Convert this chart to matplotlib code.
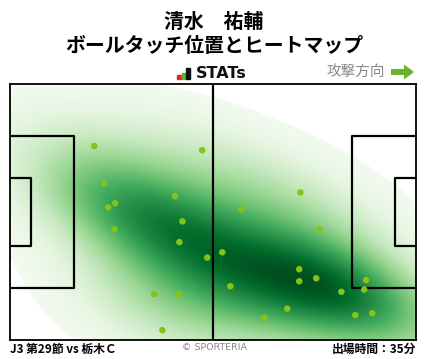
import numpy as np
import matplotlib
matplotlib.use('Agg')
import matplotlib.pyplot as plt
from matplotlib.patches import Rectangle, FancyArrow

plt.rcParams['font.family'] = ['Noto Sans CJK JP', 'DejaVu Sans']

# ball touches (meters, x: 0-105 attack to the right, y: 0-68 from top)
touch_x = [21.8, 49.7, 24.4, 27.2, 25.4, 42.7, 44.6, 27.0, 43.8, 51.0, 37.3, 43.5, 39.4,
           75.1, 59.8, 80.0, 54.9, 74.8, 74.8, 79.2, 92.1, 57.0, 85.7, 91.6, 71.7, 65.8,
           89.3, 93.7]
touch_y = [16.5, 17.6, 26.4, 31.7, 32.8, 29.8, 36.5, 38.6, 42.0, 46.1, 55.8, 55.8, 65.4,
           28.8, 33.3, 38.6, 44.7, 49.2, 52.4, 51.6, 52.1, 53.7, 55.2, 54.6, 59.7, 62.1,
           61.4, 60.9]

player = '清水　祐輔'
subtitle = 'ボールタッチ位置とヒートマップ'
match_info = 'J3 第29節 vs 栃木Ｃ'
minutes = '出場時間：35分'

# gaussian kde, full covariance, scott factor (widened)
pts = np.vstack([touch_x, touch_y])
n = pts.shape[1]
fac = n ** (-1.0 / 6) * 1.3
cov = np.cov(pts) * fac ** 2
inv = np.linalg.inv(cov)
gx, gy = np.meshgrid(np.linspace(0, 105, 840), np.linspace(0, 68, 544))
grid = np.vstack([gx.ravel(), gy.ravel()])
d = grid[:, :, None] - pts[:, None, :]
e = np.einsum('ijk,il,ljk->jk', d, inv, d)
dens = np.exp(-0.5 * e).sum(axis=1).reshape(gx.shape)
dens = dens / dens.max()
rgba = plt.get_cmap('Greens')(dens / 1.03)
rgba[dens < 0.03, 3] = 0

fig = plt.figure(figsize=(4.28, 3.59), dpi=100)
ax = fig.add_axes([10 / 428, 19 / 359, 406 / 428, 256 / 359])
ax.imshow(rgba, extent=(0, 105, 68, 0), interpolation='nearest', aspect='auto', zorder=1)

lw = 1.6
kw = dict(color='black', lw=lw, zorder=3)
ax.plot([52.5, 52.5], [0, 68], **kw)
ax.plot([0, 16.5, 16.5, 0], [13.85, 13.85, 54.15, 54.15], **kw)
ax.plot([0, 5.5, 5.5, 0], [24.85, 24.85, 43.15, 43.15], **kw)
ax.plot([105, 88.5, 88.5, 105], [13.85, 13.85, 54.15, 54.15], **kw)
ax.plot([105, 99.5, 99.5, 105], [24.85, 24.85, 43.15, 43.15], **kw)
ax.scatter(touch_x, touch_y, s=22, color='#84c318', edgecolor='none', zorder=4)
ax.set_xlim(0, 105)
ax.set_ylim(68, 0)
ax.set_xticks([])
ax.set_yticks([])
for s in ax.spines.values():
    s.set_linewidth(1.3)

# header
fig.text(0.5, 1 - 21 / 359, player, ha='center', va='center', fontsize=14.3, fontweight='bold')
fig.text(0.5, 1 - 46 / 359, subtitle, ha='center', va='center', fontsize=14.3, fontweight='bold')
fig.text(196 / 428, 1 - 73 / 359, 'STATs', ha='left', va='center', fontsize=11.5,
         fontweight='bold', family='DejaVu Sans', color='#111111')
for bx, bh, bc in [(177, 4, '#e8262b'), (181.5, 6, '#5cb531'), (186, 11, '#111111')]:
    fig.patches.append(Rectangle((bx / 428, 1 - 79 / 359), 3.5 / 428, bh / 359,
                                 transform=fig.transFigure, color=bc))
fig.text(385 / 428, 1 - 72 / 359, '攻撃方向', ha='right', va='center', fontsize=10.5, color='#888888')
fig.patches.append(FancyArrow(391 / 428, 1 - 72 / 359, 23 / 428, 0, width=6 / 359,
                              head_width=15 / 359, head_length=10 / 428,
                              length_includes_head=True, transform=fig.transFigure,
                              color='#6ab42d', lw=0))

# footer
fig.text(10 / 428, 1 - 349 / 359, match_info, ha='left', va='center', fontsize=8.5, fontweight='bold')
fig.text(0.5, 1 - 348 / 359, '© SPORTERIA', ha='center', va='center', fontsize=6.8,
         color='#888888', family='DejaVu Sans')
fig.text(416 / 428, 1 - 349 / 359, minutes, ha='right', va='center', fontsize=8.5, fontweight='bold')

fig.savefig('out.png', dpi=100)
